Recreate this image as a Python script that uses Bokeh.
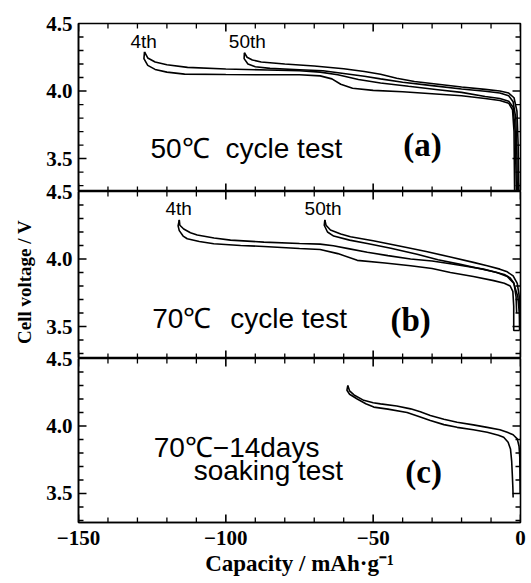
from bokeh.plotting import figure
from bokeh.models import Range1d, LinearAxis, FixedTicker, Label
from bokeh.layouts import row, column
from bokeh.embed import file_html
from bokeh.resources import INLINE

# ---------------- data ----------------
x_tick_values = [-150, -100, -50, 0]
x_tick_labels = ["\u2212150", "\u2212100", "\u221250", "0"]
x_minor_ticks = [-140, -130, -120, -110, -90, -80, -70, -60,
                 -40, -30, -20, -10]
y_tick_values = [3.5, 4.0, 4.5]
y_tick_labels = ["3.5", "4.0", "4.5"]
y_minor_ticks = [3.3, 3.4, 3.6, 3.7, 3.8, 3.9, 4.1, 4.2, 4.3, 4.4]

# panel (a): 50 C cycle test
a_4th_upper_x = [-127.6, -126.5, -124.0, -120.0, -113.0, -100.0, -86.0, -75.0, -68.0, -62.0,
                 -55.0, -47.5, -38.0, -28.0, -20.0, -12.0, -7.0, -4.0, -2.5, -1.8, -1.4]
a_4th_upper_y = [4.29, 4.245, 4.215, 4.195, 4.175, 4.163, 4.156, 4.150, 4.140, 4.120,
                 4.085, 4.060, 4.035, 4.010, 3.990, 3.960, 3.945, 3.925, 3.880, 3.700, 3.26]
a_4th_lower_x = [-127.6, -127.8, -126.5, -124.0, -120.0, -114.0, -100.0, -86.0, -75.0, -68.0,
                 -64.0, -61.0, -57.0, -50.0, -40.0, -30.0, -20.0, -12.0, -7.0, -4.0,
                 -2.7, -2.2, -2.0]
a_4th_lower_y = [4.29, 4.240, 4.190, 4.160, 4.140, 4.125, 4.122, 4.120, 4.120, 4.112,
                 4.090, 4.050, 4.020, 4.005, 3.995, 3.980, 3.965, 3.945, 3.930, 3.910,
                 3.860, 3.700, 3.26]
a_50th_upper_x = [-93.7, -92.8, -91.0, -88.0, -80.0, -70.0, -60.0, -53.0, -47.5, -42.0,
                  -36.0, -28.0, -20.0, -12.0, -7.0, -4.0, -2.2, -1.2, -0.8, -0.6]
a_50th_upper_y = [4.284, 4.250, 4.230, 4.215, 4.200, 4.185, 4.165, 4.145, 4.124, 4.095,
                  4.070, 4.050, 4.030, 4.012, 4.000, 3.985, 3.950, 3.850, 3.600, 3.26]
a_50th_lower_x = [-93.7, -93.8, -92.5, -90.0, -85.0, -75.0, -67.0, -60.0, -53.0, -47.5,
                  -40.0, -30.0, -20.0, -12.0, -7.0, -4.0, -2.5, -1.6, -1.2, -1.1]
a_50th_lower_y = [4.284, 4.240, 4.200, 4.180, 4.168, 4.158, 4.150, 4.130, 4.110, 4.090,
                  4.065, 4.040, 4.015, 3.998, 3.985, 3.965, 3.920, 3.800, 3.500, 3.26]

# panel (b): 70 C cycle test
b_4th_upper_x = [-115.8, -115.6, -114.3, -112.0, -109.7, -104.0, -98.4, -87.1, -75.0, -68.0,
                 -63.5, -58.0, -52.0, -45.0, -37.3, -30.0, -23.8, -18.0, -12.6, -8.0,
                 -4.5, -2.3, -0.9, -0.4, -0.3]
b_4th_upper_y = [4.29, 4.250, 4.222, 4.195, 4.178, 4.155, 4.140, 4.125, 4.115, 4.110,
                 4.098, 4.075, 4.050, 4.025, 4.000, 3.985, 3.965, 3.945, 3.925, 3.900,
                 3.870, 3.820, 3.720, 3.600, 3.47]
b_4th_lower_x = [-115.8, -116.2, -115.8, -114.5, -113.1, -109.0, -104.1, -95.0, -87.1, -75.0,
                 -68.0, -62.0, -55.4, -46.0, -37.3, -30.0, -23.8, -16.0, -9.1, -5.5,
                 -3.5, -2.6, -2.3, -2.3, -0.3]
b_4th_lower_y = [4.29, 4.245, 4.210, 4.170, 4.150, 4.130, 4.113, 4.100, 4.093, 4.078,
                 4.070, 4.040, 3.990, 3.970, 3.950, 3.930, 3.900, 3.870, 3.840, 3.820,
                 3.800, 3.760, 3.650, 3.47, 3.47]
b_50th_upper_x = [-66.4, -66.0, -64.5, -61.0, -57.7, -50.0, -40.7, -32.0, -23.8, -16.0,
                  -11.3, -7.0, -4.5, -2.5, -1.1, -0.4, -0.3]
b_50th_upper_y = [4.29, 4.250, 4.215, 4.185, 4.165, 4.135, 4.095, 4.055, 4.015, 3.975,
                  3.950, 3.925, 3.905, 3.875, 3.820, 3.720, 3.600]
b_50th_lower_x = [-66.4, -66.6, -65.5, -63.4, -58.0, -52.0, -44.0, -35.1, -28.0, -20.4,
                  -14.0, -9.1, -5.5, -3.5, -2.2, -1.5, -1.3]
b_50th_lower_y = [4.29, 4.250, 4.200, 4.170, 4.140, 4.115, 4.080, 4.035, 3.995, 3.960,
                  3.930, 3.905, 3.885, 3.860, 3.820, 3.720, 3.600]

# panel (c): 70 C - 14 days soaking test
c_upper_x = [-58.6, -58.0, -56.5, -53.2, -50.0, -47.5, -42.0, -37.3, -34.0, -30.6,
             -26.0, -21.5, -16.0, -11.3, -7.0, -4.5, -2.5, -1.1, -0.5, -0.25, -0.1]
c_upper_y = [4.30, 4.260, 4.230, 4.190, 4.172, 4.164, 4.148, 4.127, 4.105, 4.078,
             4.050, 4.028, 4.008, 3.990, 3.972, 3.953, 3.935, 3.905, 3.850, 3.770, 3.50]
c_lower_x = [-58.6, -58.9, -58.0, -55.4, -52.5, -49.8, -45.0, -38.5, -34.5, -30.6,
             -26.0, -21.5, -16.0, -11.3, -7.5, -5.7, -4.2, -3.4, -3.0, -2.8, -2.6, -2.5]
c_lower_y = [4.30, 4.265, 4.235, 4.200, 4.165, 4.140, 4.125, 4.100, 4.070, 4.040,
             4.010, 3.990, 3.972, 3.953, 3.932, 3.916, 3.880, 3.830, 3.740, 3.650, 3.550, 3.47]

# annotations
panel_titles_left = ["50\u2103", "70\u2103"]
panel_titles_right = ["cycle test", "cycle test"]
panel_c_lines = ["70\u2103\u221214days", "soaking test"]
panel_letters = ["(a)", "(b)", "(c)"]
cycle_labels = ["4th", "50th"]

# ---------------- styling / layout ----------------
SERIF = "Liberation Serif"
SANS = "Liberation Sans"
LW = 1.6
X0, X1 = -150, 0
YTOP = 4.5
FRAME_W = 442          # px
PX_PER_V = 135.0       # px per volt in every panel
PANEL_W = 492
OVER = 10              # overlap between stacked panels (lets boundary tick labels show)
MAJ_LEN, MIN_LEN = 8, 5  # tick lengths in px
DX = (X1 - X0) / FRAME_W  # data units per px along x
DY = 1.0 / PX_PER_V       # data units per px along y
NAN = float("nan")


def add_axes(p, show_x_labels):
    left = LinearAxis(ticker=FixedTicker(ticks=y_tick_values, minor_ticks=[]))
    left.major_label_overrides = dict(zip(y_tick_values, y_tick_labels))
    left.major_label_text_font = SERIF
    left.major_label_text_font_style = "bold"
    left.major_label_text_font_size = "21px"
    left.major_label_text_color = "black"
    left.major_label_standoff = 6
    p.add_layout(left, "left")

    axes = [left]
    if show_x_labels:
        below = LinearAxis(ticker=FixedTicker(ticks=x_tick_values, minor_ticks=[]))
        below.major_label_overrides = dict(zip(x_tick_values, x_tick_labels))
        below.major_label_text_font = SERIF
        below.major_label_text_font_style = "bold"
        below.major_label_text_font_size = "21px"
        below.major_label_text_color = "black"
        below.major_label_standoff = 8
        below.axis_label = "Capacity / mAh\u00b7g\u207b\u00b9"
        below.axis_label_text_font = SERIF
        below.axis_label_text_font_style = "bold"
        below.axis_label_text_font_size = "23px"
        below.axis_label_text_color = "black"
        below.axis_label_standoff = 3
        p.add_layout(below, "below")
        axes.append(below)

    for ax in axes:
        ax.axis_line_color = "black"
        ax.axis_line_width = 1.5
        ax.major_tick_in = 0
        ax.major_tick_out = 0
        ax.minor_tick_in = 0
        ax.minor_tick_out = 0


def tick_path(ticks, fixed, length, along_x):
    """x/y arrays (NaN-separated) for short inward marks at the given tick values."""
    xs, ys = [], []
    for t in ticks:
        for (a, b) in fixed:
            if along_x:
                xs += [t, t, NAN]
                ys += [a, a + b * length, NAN]
            else:
                xs += [a, a + b * length, NAN]
                ys += [t, t, NAN]
    return xs, ys


def add_inward_ticks(p, ymin):
    yt_major = [v for v in y_tick_values if ymin < v < YTOP]
    yt_minor = [v for v in y_minor_ticks if ymin < v < YTOP]
    for ticks, ln, lw in [(x_tick_values, MAJ_LEN, 1.6), (x_minor_ticks, MIN_LEN, 1.3)]:
        xs, ys = tick_path(ticks, [(ymin, DY), (YTOP, -DY)], ln, True)
        p.line(xs, ys, line_color="black", line_width=lw)
    for ticks, ln, lw in [(yt_major, MAJ_LEN, 1.6), (yt_minor, MIN_LEN, 1.3)]:
        xs, ys = tick_path(ticks, [(X0, DX), (X1, -DX)], ln, False)
        p.line(xs, ys, line_color="black", line_width=lw)


def make_panel(ymin, height, top, bottom, show_x_labels, overlap):
    p = figure(width=PANEL_W, height=height,
               x_range=Range1d(X0, X1), y_range=Range1d(ymin, YTOP),
               output_backend="svg", toolbar_location=None,
               x_axis_location=None, y_axis_location=None,
               min_border_left=42, min_border_right=8,
               min_border_top=top, min_border_bottom=bottom)
    p.xgrid.visible = False
    p.ygrid.visible = False
    p.outline_line_color = "black"
    p.outline_line_width = 1.6
    p.background_fill_color = None
    p.border_fill_color = None
    if overlap:
        p.styles = {"margin-top": "-%dpx" % OVER}
    add_axes(p, show_x_labels)
    add_inward_ticks(p, ymin)
    return p


def sans_label(p, x, y, text, size="28px", align="left"):
    p.add_layout(Label(x=x, y=y, text=text, text_font=SANS, text_font_size=size,
                       text_color="black", text_align=align, text_baseline="middle"))


def letter_label(p, x, y, text):
    p.add_layout(Label(x=x, y=y, text=text, text_font=SERIF, text_font_style="bold",
                       text_font_size="33px", text_color="black",
                       text_align="center", text_baseline="middle"))


pa = make_panel(3.256, 23 + 168, 23, 0, False, False)
pb = make_panel(3.263, OVER + 167, OVER, 0, False, True)
pc = make_panel(3.285, OVER + 164 + 56, OVER, 56, True, True)

for xs, ys in [(a_4th_upper_x, a_4th_upper_y), (a_4th_lower_x, a_4th_lower_y),
               (a_50th_upper_x, a_50th_upper_y), (a_50th_lower_x, a_50th_lower_y)]:
    pa.line(xs, ys, line_color="black", line_width=LW)
for xs, ys in [(b_4th_upper_x, b_4th_upper_y), (b_4th_lower_x, b_4th_lower_y),
               (b_50th_upper_x, b_50th_upper_y), (b_50th_lower_x, b_50th_lower_y)]:
    pb.line(xs, ys, line_color="black", line_width=LW)
for xs, ys in [(c_upper_x, c_upper_y), (c_lower_x, c_lower_y)]:
    pc.line(xs, ys, line_color="black", line_width=LW)

# panel (a) texts
sans_label(pa, -127.9, 4.37, cycle_labels[0], "19px", "center")
sans_label(pa, -92.7, 4.37, cycle_labels[1], "19px", "center")
sans_label(pa, -125.6, 3.578, panel_titles_left[0])
sans_label(pa, -100.1, 3.578, panel_titles_right[0])
letter_label(pa, -33.3, 3.60, panel_letters[0])

# panel (b) texts
sans_label(pb, -116.0, 4.372, cycle_labels[0], "19px", "center")
sans_label(pb, -67.0, 4.372, cycle_labels[1], "19px", "center")
sans_label(pb, -125.0, 3.557, panel_titles_left[1])
sans_label(pb, -98.5, 3.557, panel_titles_right[1])
letter_label(pb, -37.3, 3.545, panel_letters[1])

# panel (c) texts
sans_label(pc, -124.5, 3.837, panel_c_lines[0])
sans_label(pc, -110.9, 3.667, panel_c_lines[1])
letter_label(pc, -32.9, 3.66, panel_letters[2])

# y-axis title in a narrow side figure
SIDE_H = 23 + 168 + 167 + 164 + 56
side = figure(width=36, height=SIDE_H, x_range=Range1d(0, 1), y_range=Range1d(0, 1),
              output_backend="svg", toolbar_location=None,
              x_axis_location=None, y_axis_location=None,
              min_border=0, outline_line_color=None)
side.xgrid.visible = False
side.ygrid.visible = False
side.add_layout(Label(x=0.667, y=1 - 281.5 / SIDE_H, text="Cell voltage / V", angle=1.5708,
                      text_font=SERIF, text_font_style="bold", text_font_size="19px",
                      text_color="black", text_align="center", text_baseline="middle"))

layout = row(side, column(pa, pb, pc, spacing=0), spacing=0)

open("out.html", "w").write(file_html(layout, INLINE))
